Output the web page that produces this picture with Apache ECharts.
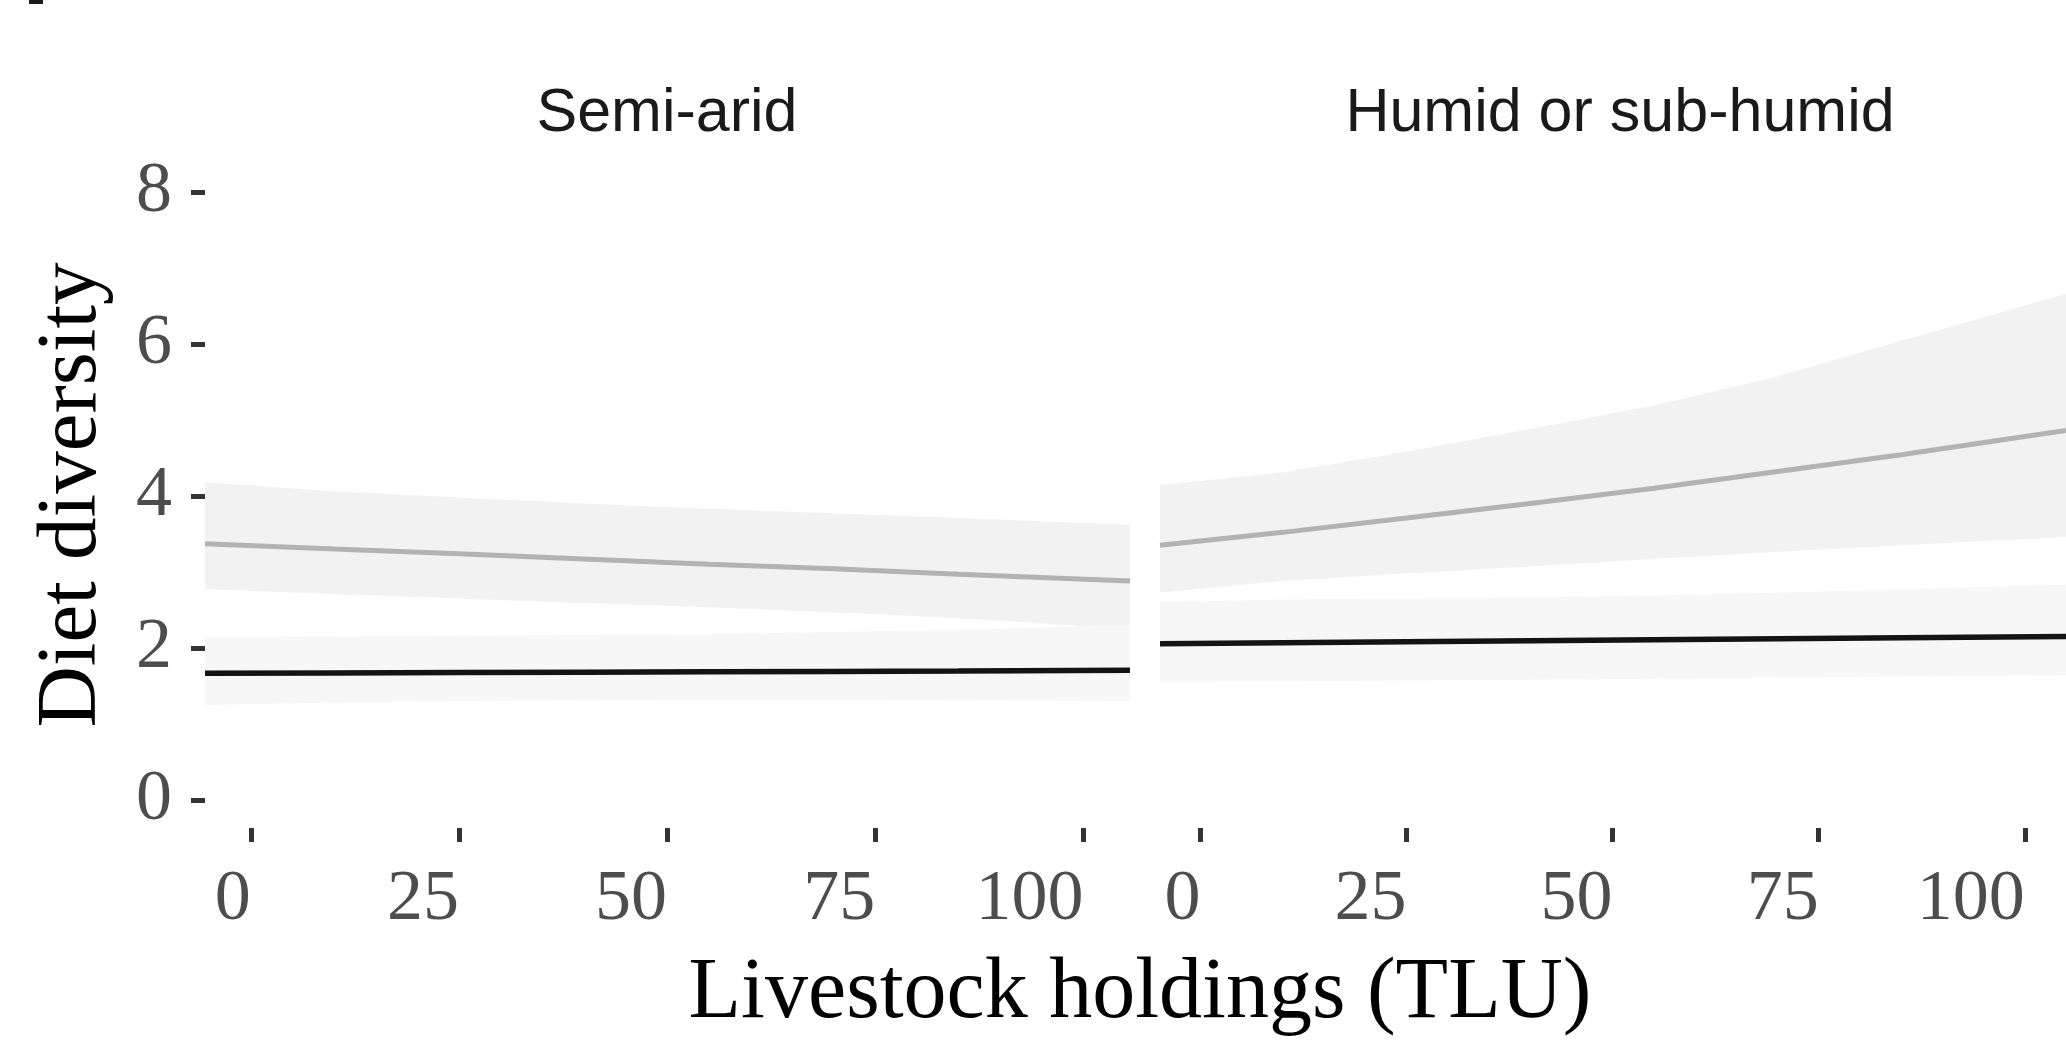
<!DOCTYPE html>
<html>
<head>
<meta charset="utf-8">
<title>Diet diversity by livestock holdings</title>
<script src="https://cdn.jsdelivr.net/npm/echarts@6.0.0/dist/echarts.min.js"></script>
<style>
  html, body { margin: 0; padding: 0; background: #fff; }
  #chart { width: 2066px; height: 1048px; }
</style>
</head>
<body>
<div id="chart"></div>
<script>
// panel titles and tick labels
var panelNames = ['Semi-arid', 'Humid or sub-humid'];
var xTicks = [0, 25, 50, 75, 100];
var yTicks = [0, 2, 4, 6, 8];

// Semi-arid panel
var semiX = [-5.5, 10, 25, 40, 55, 70, 85, 105.6];
var semiGrey = [3.37, 3.30, 3.24, 3.17, 3.10, 3.04, 2.97, 2.88];
var semiGreyHi = [4.18, 4.06, 3.98, 3.90, 3.83, 3.77, 3.71, 3.62];
var semiGreyLo = [2.77, 2.71, 2.65, 2.59, 2.535, 2.47, 2.39, 2.25];
var semiBlack = [1.665, 1.67, 1.675, 1.68, 1.685, 1.69, 1.695, 1.705];
var semiBlackHi = [2.14, 2.15, 2.16, 2.17, 2.18, 2.21, 2.24, 2.30];
var semiBlackLo = [1.25, 1.28, 1.30, 1.31, 1.315, 1.315, 1.31, 1.30];

// Humid or sub-humid panel
var humidX = [-4.9, 10, 25, 40, 55, 70, 85, 105];
var humidGrey = [3.35, 3.52, 3.71, 3.90, 4.10, 4.32, 4.54, 4.86];
var humidGreyHi = [4.14, 4.31, 4.58, 4.88, 5.19, 5.57, 6.04, 6.66];
var humidGreyLo = [2.73, 2.88, 2.98, 3.07, 3.17, 3.265, 3.35, 3.46];
var humidBlack = [2.055, 2.068, 2.081, 2.094, 2.107, 2.12, 2.133, 2.15];
var humidBlackHi = [2.60, 2.635, 2.65, 2.665, 2.69, 2.725, 2.77, 2.83];
var humidBlackLo = [1.55, 1.56, 1.57, 1.58, 1.595, 1.61, 1.625, 1.64];

var serif = '"Liberation Serif", "DejaVu Serif", serif';
var sans = '"Liberation Sans", Arial, sans-serif';

function pairs(xs, ys) {
    return xs.map(function (x, i) { return [x, ys[i]]; });
}

// confidence ribbon drawn as one polygon through the axis scales
function band(idx, xs, lo, hi, color) {
    return {
        type: 'custom', xAxisIndex: idx, yAxisIndex: idx, silent: true, z: 1,
        data: xs.map(function (x, i) { return [x, lo[i], hi[i]]; }),
        encode: { x: 0, y: [1, 2] },
        renderItem: function (params, api) {
            if (params.dataIndex !== 0) return null;
            var top = [], bottom = [];
            for (var i = 0; i < xs.length; i++) {
                top.push(api.coord([xs[i], hi[i]]));
                bottom.unshift(api.coord([xs[i], lo[i]]));
            }
            return {
                type: 'polygon',
                shape: { points: top.concat(bottom) },
                style: { fill: color }
            };
        }
    };
}
function line(idx, xs, ys, color, width) {
    return {
        type: 'line', xAxisIndex: idx, yAxisIndex: idx,
        data: pairs(xs, ys), showSymbol: false, silent: true, z: 5,
        lineStyle: { color: color, width: width }
    };
}

function xAxis(idx, min, max) {
    return {
        type: 'value', gridIndex: idx, min: min, max: max,
        axisLine: { show: false, onZero: false },
        splitLine: { show: false },
        axisTick: {
            show: true, customValues: xTicks, length: 14,
            lineStyle: { color: '#333333', width: 5 }
        },
        axisLabel: {
            customValues: xTicks, align: 'right', margin: 36,
            fontFamily: serif, fontSize: 72, color: '#4d4d4d'
        }
    };
}

var chart = echarts.init(document.getElementById('chart'));

var option = {
    animation: false,
    backgroundColor: '#ffffff',
    grid: [
        { left: 205, top: 163, width: 925, height: 665 },
        { left: 1160, top: 163, width: 920, height: 665 }
    ],
    xAxis: [
        xAxis(0, -5.5, 105.6),
        xAxis(1, -4.9, 105)
    ],
    yAxis: [
        {
            type: 'value', gridIndex: 0, min: -0.37, max: 8.38,
            axisLine: { show: false, onZero: false },
            splitLine: { show: false },
            axisTick: {
                show: true, customValues: yTicks, length: 14,
                lineStyle: { color: '#333333', width: 5 }
            },
            axisLabel: {
                customValues: yTicks, margin: 33, padding: [10, 0, 0, 0],
                fontFamily: serif, fontSize: 72, color: '#4d4d4d'
            }
        },
        {
            type: 'value', gridIndex: 1, min: -0.37, max: 8.38,
            axisLine: { show: false, onZero: false }, splitLine: { show: false },
            axisTick: { show: false }, axisLabel: { show: false }
        }
    ],
    graphic: [
        // clipped fragment at the very top-left corner
        { type: 'rect', left: 29, top: 0, shape: { width: 14, height: 4 }, style: { fill: '#1a1a1a' } },
        {
            type: 'text', x: 667, y: 114,
            style: { text: panelNames[0], font: '61px ' + sans, fill: '#1a1a1a', align: 'center', verticalAlign: 'middle' }
        },
        {
            type: 'text', x: 1620, y: 114,
            style: { text: panelNames[1], font: '61px ' + sans, fill: '#1a1a1a', align: 'center', verticalAlign: 'middle' }
        },
        {
            type: 'text', x: 73, y: 495, rotation: Math.PI / 2,
            style: { text: 'Diet diversity', font: '85px ' + serif, fill: '#000000', align: 'center', verticalAlign: 'middle' }
        },
        {
            type: 'text', x: 1140, y: 994,
            style: { text: 'Livestock holdings (TLU)', font: '86px ' + serif, fill: '#000000', align: 'center', verticalAlign: 'middle' }
        }
    ],
    series: [
        band(0, semiX, semiGreyLo, semiGreyHi, '#f2f2f2'),
        band(0, semiX, semiBlackLo, semiBlackHi, '#f7f7f7'),
        band(1, humidX, humidGreyLo, humidGreyHi, '#f2f2f2'),
        band(1, humidX, humidBlackLo, humidBlackHi, '#f7f7f7'),
        line(0, semiX, semiGrey, '#b3b3b3', 5),
        line(0, semiX, semiBlack, '#141414', 5.5),
        line(1, humidX, humidGrey, '#b3b3b3', 5),
        line(1, humidX, humidBlack, '#141414', 5.5)
    ]
};

chart.setOption(option);
</script>
</body>
</html>
